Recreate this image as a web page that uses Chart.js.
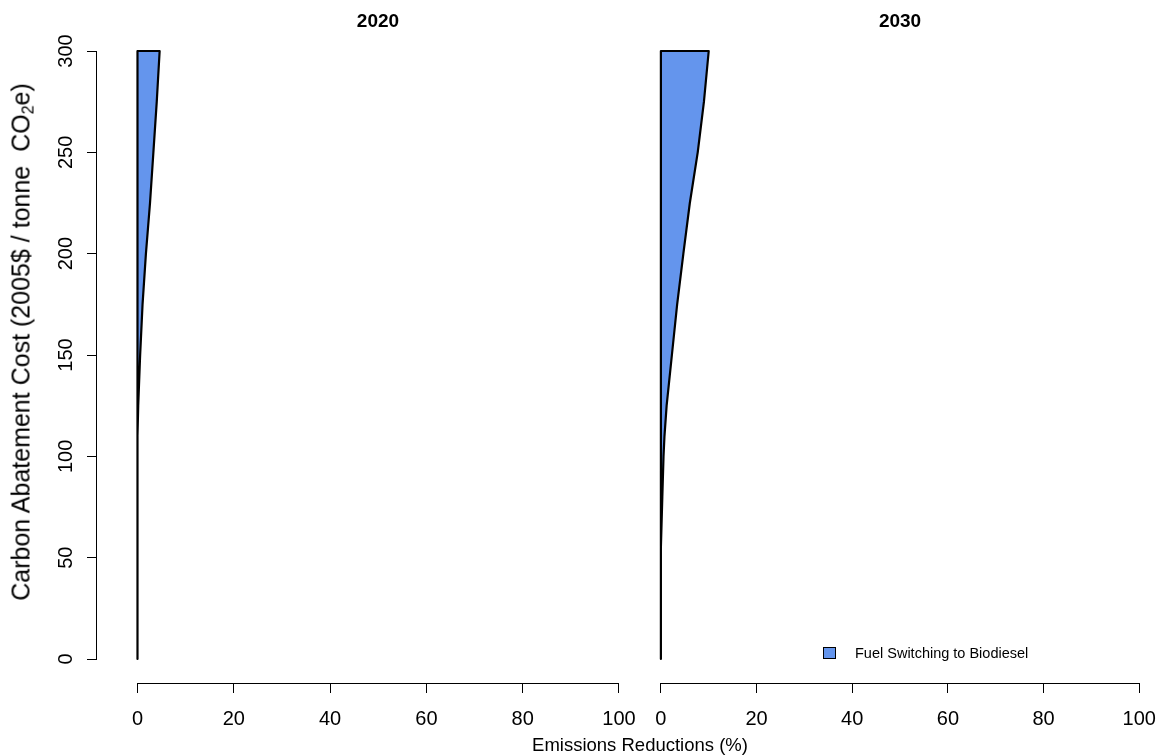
<!DOCTYPE html>
<html>
<head>
<meta charset="utf-8">
<script src="https://cdn.jsdelivr.net/npm/chart.js@4/dist/chart.umd.min.js"></script>
<style>
  body { margin: 0; background: #fff; font-family: 'Liberation Sans', Arial, sans-serif; }
  #wrap { position: relative; width: 1170px; height: 756px; overflow: hidden; }
  .panel { position: absolute; top: 0; }
  #ytitle {
    position: absolute; left: 21px; top: 342px;
    transform: translate(-50%, -50%) rotate(-90deg);
    white-space: nowrap; font-size: 25px; color: #000;
  }
  #ytitle sub { font-size: 16px; vertical-align: -4px; line-height: 0; }
  #xtitle {
    position: absolute; left: 640px; top: 745px;
    transform: translate(-50%, -50%);
    white-space: nowrap; font-size: 18.5px; color: #000;
  }
  #legend { position: absolute; left: 823px; top: 643px; font-size: 14.5px; color: #000; }
  #legend .item { display: flex; align-items: center; height: 19px; }
  #legend .box {
    width: 11px; height: 10px; border: 1.5px solid #000;
    background: #6495ED; margin-right: 19px;
  }
</style>
</head>
<body>
<div id="wrap">
  <canvas id="panel2020" class="panel" style="left:0px" width="659" height="756"></canvas>
  <canvas id="panel2030" class="panel" style="left:632px" width="538" height="756"></canvas>
  <div id="ytitle">Carbon Abatement Cost (2005$ / tonne&nbsp; CO<sub>2</sub>e)</div>
  <div id="xtitle">Emissions Reductions (%)</div>
  <div id="legend"></div>
</div>
<script>
// cost levels (2005$ / tonne CO2e) and the emissions reduction (%) reached at each
var costLevels    = [0, 55, 80, 100, 110, 125, 150, 175, 200, 225, 250, 275, 300];
var reduction2020 = [0, 0, 0, 0, 0, 0.15, 0.55, 1.05, 1.75, 2.6, 3.3, 4.0, 4.6];
var reduction2030 = [0, 0, 0.3, 0.55, 0.75, 1.2, 2.3, 3.4, 4.7, 6.05, 7.7, 9.0, 10.0];

var years = ['2020', '2030'];
var seriesNames = ['Fuel Switching to Biodiesel'];
var seriesColors = ['#6495ED'];

var xTicks = [0, 20, 40, 60, 80, 100];
var yTicks = [0, 50, 100, 150, 200, 250, 300];

Chart.defaults.font.family = "'Liberation Sans', Arial, sans-serif";
Chart.defaults.color = '#000';

// closed outline: up the zero line, then back down along the curve
function buildShape(reductions) {
  var pts = [{x: 0, y: costLevels[0]}, {x: 0, y: costLevels[costLevels.length - 1]}];
  for (var i = costLevels.length - 1; i >= 0; i--) {
    pts.push({x: reductions[i], y: costLevels[i]});
  }
  return pts;
}

// R-style axis lines that only run between the first and last tick
var axisLines = {
  id: 'axisLines',
  afterDraw: function(chart) {
    var ctx = chart.ctx;
    var area = chart.chartArea;
    var xs = chart.scales.x, ys = chart.scales.y;
    ctx.save();
    ctx.strokeStyle = '#000';
    ctx.lineWidth = 1;
    ctx.beginPath();
    ctx.moveTo(xs.getPixelForValue(xTicks[0]), area.bottom + 0.5);
    ctx.lineTo(xs.getPixelForValue(xTicks[xTicks.length - 1]), area.bottom + 0.5);
    if (ys.options.display) {
      ctx.moveTo(area.left - 0.5, ys.getPixelForValue(yTicks[0]));
      ctx.lineTo(area.left - 0.5, ys.getPixelForValue(yTicks[yTicks.length - 1]));
    }
    ctx.stroke();
    ctx.restore();
  }
};

function makePanel(canvasId, year, reductions, xMin, xMax, showY) {
  var ctx = document.getElementById(canvasId).getContext('2d');
  return new Chart(ctx, {
    type: 'scatter',
    data: {
      datasets: [{
        label: seriesNames[0],
        data: buildShape(reductions),
        showLine: true,
        fill: 'shape',
        backgroundColor: seriesColors[0],
        borderColor: '#000',
        borderWidth: 2.2,
        borderJoinStyle: 'round',
        pointRadius: 0,
        tension: 0
      }]
    },
    options: {
      responsive: false,
      animation: false,
      layout: { padding: 0 },
      plugins: {
        legend: { display: false },
        tooltip: { enabled: false },
        title: {
          display: true,
          text: year,
          fullSize: false,
          font: { size: 19, weight: 'bold' },
          padding: { top: 10, bottom: 7.2 }
        }
      },
      scales: {
        x: {
          type: 'linear',
          min: xMin,
          max: xMax,
          afterBuildTicks: function(scale) {
            scale.ticks = xTicks.map(function(v) { return {value: v}; });
          },
          afterFit: function(scale) { scale.height = 73; },
          border: { display: false },
          grid: { drawOnChartArea: false, drawTicks: true, tickLength: 10, color: '#000', lineWidth: 1 },
          ticks: { font: { size: 20 }, padding: 14, maxRotation: 0, autoSkip: false }
        },
        y: {
          type: 'linear',
          display: showY,
          min: -11.84,
          max: 305.43,
          afterBuildTicks: function(scale) {
            scale.ticks = yTicks.map(function(v) { return {value: v}; });
          },
          afterFit: function(scale) { if (showY) scale.width = 97; },
          border: { display: false },
          grid: { drawOnChartArea: false, drawTicks: true, tickLength: 10, color: '#000', lineWidth: 1 },
          ticks: { font: { size: 20 }, padding: 4.3, minRotation: 90, maxRotation: 90, crossAlign: 'center', autoSkip: false }
        }
      }
    },
    plugins: [axisLines]
  });
}

makePanel('panel2020', years[0], reduction2020, -8.41, 108.31, true);
makePanel('panel2030', years[1], reduction2030, -6.04, 106.04, false);

// legend
var legend = document.getElementById('legend');
seriesNames.forEach(function(name, i) {
  var item = document.createElement('div');
  item.className = 'item';
  var box = document.createElement('span');
  box.className = 'box';
  box.style.background = seriesColors[i];
  var label = document.createElement('span');
  label.textContent = name;
  item.appendChild(box);
  item.appendChild(label);
  legend.appendChild(item);
});
</script>
</body>
</html>
